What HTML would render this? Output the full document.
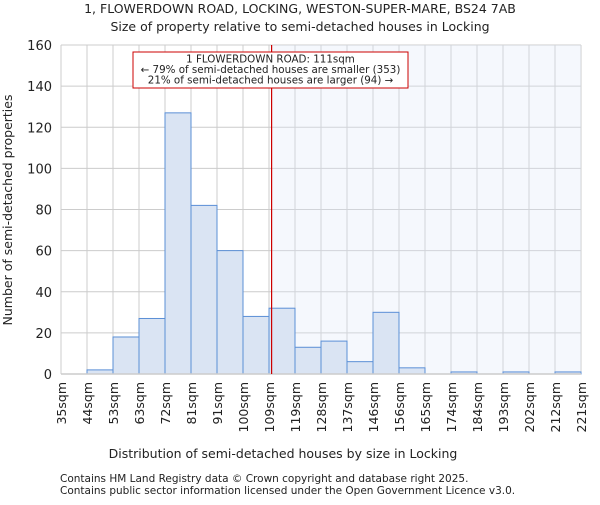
<!DOCTYPE html>
<html><head><meta charset="utf-8"><style>
body{margin:0;background:#fff;}
svg text{font-family:"DejaVu Sans","Liberation Sans",sans-serif;fill:#222;}
</style></head><body>
<svg id="chart" width="600" height="500" xmlns="http://www.w3.org/2000/svg">
<text x="300" y="13" text-anchor="middle" font-size="12.5">1, FLOWERDOWN ROAD, LOCKING, WESTON-SUPER-MARE, BS24 7AB</text>
<text x="300" y="31" text-anchor="middle" font-size="12.5">Size of property relative to semi-detached houses in Locking</text>
<g id="plot"></g>
<text x="283" y="458" text-anchor="middle" font-size="12.5">Distribution of semi-detached houses by size in Locking</text>
<text transform="translate(12,210) rotate(-90)" text-anchor="middle" font-size="12.5">Number of semi-detached properties</text>
<text x="60" y="482" font-size="10.5" fill="#444">Contains HM Land Registry data © Crown copyright and database right 2025.</text>
<text x="60" y="494" font-size="10.5" fill="#444">Contains public sector information licensed under the Open Government Licence v3.0.</text>
</svg>
<script>
const categories=["35sqm","44sqm","53sqm","63sqm","72sqm","81sqm","91sqm","100sqm","109sqm","119sqm","128sqm","137sqm","146sqm","156sqm","165sqm","174sqm","184sqm","193sqm","202sqm","212sqm","221sqm"];
const counts=[0,2,18,27,127,82,60,28,32,13,16,6,30,3,0,1,0,1,0,1];
const yTicks=[0,20,40,60,80,100,120,140,160];
const markerBin=8.1;
const NS="http://www.w3.org/2000/svg";
const g=document.getElementById('plot');
const L=61,R=581,T=45,B=374,yMax=160;
const bw=(R-L)/counts.length;
const xs=i=>L+i*bw;
const ys=v=>B-(v/yMax)*(B-T);
function mk(t,a){const e=document.createElementNS(NS,t);for(const k in a)e.setAttribute(k,a[k]);g.appendChild(e);return e;}
yTicks.forEach(v=>{
 const l=mk('line',{x1:L,x2:R,y1:ys(v),y2:ys(v),stroke:'#cccccc','stroke-width':1});
 
 
 const t=mk('text',{x:L-9,y:ys(v)+5,'text-anchor':'end','font-size':13});
 t.textContent=v;
 
 
});
categories.forEach((c,i)=>{
 const x=xs(i);
 const l=mk('line',{x1:x,x2:x,y1:T,y2:B,stroke:'#cccccc','stroke-width':1});
 
 
 const t=mk('text',{transform:`translate(${x+5},${B+8}) rotate(-90)`,'text-anchor':'end','font-size':12.5});
 t.textContent=c;
 
 
});
const mx=xs(markerBin);
const sh=mk('rect',{x:mx,y:T,width:R-mx,height:B-T,fill:'#dfe8f7','fill-opacity':0.3});


counts.forEach((v,i)=>{
 if(v<=0)return;
 const r=mk('rect',{x:xs(i),y:ys(v),width:bw,height:B-ys(v),fill:'#dae4f3',stroke:'#5b8fd6','stroke-width':1});
 
 
});
const ax=mk('line',{x1:L,x2:R,y1:B,y2:B,stroke:'#cccccc','stroke-width':1.5});


const ml=mk('line',{x1:mx,x2:mx,y1:T,y2:B,stroke:'#cc0000','stroke-width':1.2});


const box=mk('rect',{x:133,y:52,width:275,height:36,fill:'#fff',stroke:'#cc0000','stroke-width':1});


["1 FLOWERDOWN ROAD: 111sqm","← 79% of semi-detached houses are smaller (353)","21% of semi-detached houses are larger (94) →"].forEach((s,i)=>{
 const t=mk('text',{x:270.5,y:62.5+i*10.5,'text-anchor':'middle','font-size':10.3});
 t.textContent=s;
 
 
});
</script>
</body></html>
